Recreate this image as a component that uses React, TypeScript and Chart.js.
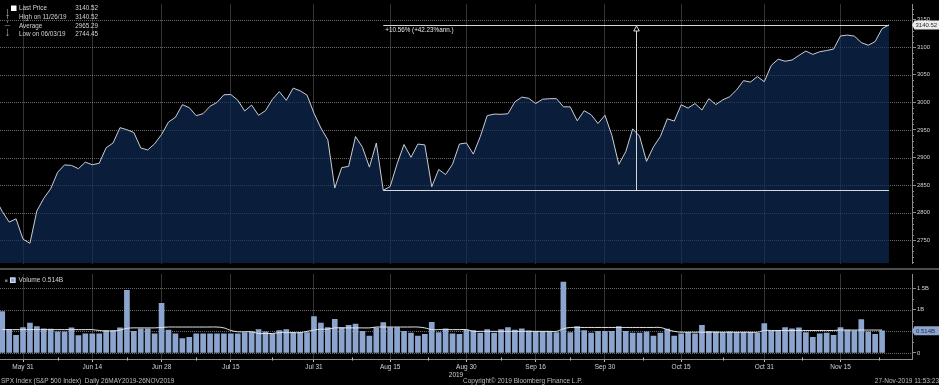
import React, { useEffect, useRef } from 'react';
import { Chart, registerables } from 'chart.js';

Chart.register(...registerables);

const FONT = '"Liberation Sans", Arial, sans-serif';

// SPX daily closes, trading-day index 0 = 24 May 2019 ... 129 = 26 Nov 2019
const priceValues = [
  2826.06, 2802.39, 2783.02, 2788.86, 2752.06, 2744.45, 2803.27, 2826.15, 2843.49, 2873.34,
  2886.73, 2885.72, 2879.84, 2891.64, 2886.98, 2889.67, 2917.75, 2926.46, 2954.18, 2950.46,
  2945.35, 2917.38, 2913.78, 2924.92, 2941.76, 2964.33, 2973.01, 2995.82, 2990.41, 2975.95,
  2979.63, 2993.07, 2999.91, 3013.77, 3014.3, 3004.04, 2984.42, 2995.11, 2976.61, 2985.03,
  3005.47, 3019.56, 3003.67, 3025.86, 3020.97, 3013.18, 2980.38, 2953.56, 2932.05, 2844.74,
  2881.77, 2883.98, 2938.09, 2918.65, 2882.7, 2926.32, 2840.6, 2847.6, 2888.68, 2923.65,
  2900.51, 2924.43, 2922.95, 2847.11, 2878.38, 2869.16, 2887.94, 2924.58, 2926.46, 2906.27,
  2937.78, 2976.0, 2978.71, 2978.43, 2979.39, 3000.93, 3009.57, 3007.39, 2997.96, 3005.7,
  3006.73, 3006.79, 2992.07, 2991.78, 2966.6, 2984.87, 2977.62, 2961.79, 2976.74, 2940.25,
  2887.61, 2910.63, 2952.01, 2938.79, 2893.06, 2919.4, 2938.13, 2970.27, 2966.15, 2995.68,
  2989.69, 2997.95, 2986.2, 3006.72, 2995.99, 3004.52, 3010.29, 3022.55, 3039.42, 3036.89,
  3046.77, 3037.56, 3066.91, 3078.27, 3074.62, 3076.78, 3085.18, 3093.08, 3087.01, 3091.84,
  3094.04, 3096.63, 3120.46, 3122.03, 3120.18, 3108.46, 3103.54, 3110.29, 3133.64, 3140.52,
];

// Volume (billions), bars starting at trading-day index 1
const volumeStartIndex = 1;
const volumeValues = [
  0.96, 0.54, 0.41, 0.59, 0.69, 0.61, 0.56, 0.55, 0.49, 0.49,
  0.58, 0.40, 0.44, 0.44, 0.44, 0.52, 0.52, 0.58, 1.45, 0.50,
  0.56, 0.56, 0.44, 1.15, 0.53, 0.44, 0.33, 0.36, 0.44, 0.44,
  0.44, 0.44, 0.44, 0.44, 0.44, 0.47, 0.49, 0.54, 0.49, 0.44,
  0.52, 0.54, 0.47, 0.47, 0.47, 0.84, 0.69, 0.59, 0.78, 0.59,
  0.64, 0.67, 0.50, 0.39, 0.58, 0.70, 0.59, 0.59, 0.50, 0.46,
  0.39, 0.43, 0.71, 0.47, 0.56, 0.44, 0.43, 0.53,
  0.52, 0.46, 0.54, 0.46, 0.54, 0.59, 0.53, 0.56, 0.51, 0.50,
  0.50, 0.50, 0.47, 1.64, 0.47, 0.61, 0.52, 0.46, 0.50, 0.50,
  0.50, 0.61, 0.50, 0.46, 0.46, 0.49, 0.39, 0.46, 0.55, 0.39,
  0.44, 0.47, 0.44, 0.64, 0.50, 0.49, 0.47, 0.49, 0.48, 0.48,
  0.48, 0.46, 0.68, 0.50, 0.52, 0.59, 0.56, 0.58, 0.47, 0.36,
  0.44, 0.46, 0.41, 0.59, 0.53, 0.52, 0.77, 0.49, 0.43, 0.514,
];

// Volume moving average (billions), same indices as volumeValues
const volumeAverage = [
  0.54, 0.54, 0.54, 0.54, 0.54, 0.54, 0.54, 0.54, 0.54, 0.54, 0.54, 0.54, 0.54, 0.54,
  0.52, 0.51, 0.51, 0.53, 0.57, 0.58, 0.58, 0.58, 0.58, 0.59,
  0.60, 0.60, 0.60, 0.60, 0.60, 0.60, 0.60, 0.60, 0.58, 0.52,
  0.49, 0.49, 0.49, 0.45, 0.45, 0.45, 0.47, 0.47, 0.47, 0.47, 0.50, 0.53, 0.55, 0.55,
  0.58, 0.58, 0.58, 0.58, 0.58, 0.58, 0.60, 0.60, 0.60, 0.60, 0.60, 0.60, 0.60, 0.58,
  0.54, 0.54, 0.54, 0.54, 0.54, 0.54,
  0.50, 0.50, 0.50, 0.50, 0.50, 0.50, 0.50, 0.50, 0.50, 0.50, 0.50, 0.50, 0.50,
  0.56, 0.59, 0.59, 0.59, 0.59, 0.59, 0.59, 0.59, 0.59, 0.59, 0.59, 0.59, 0.59, 0.59, 0.59,
  0.54, 0.50, 0.48, 0.48, 0.48, 0.48, 0.48, 0.48, 0.48, 0.48, 0.48, 0.48, 0.48, 0.48,
  0.52, 0.52, 0.52, 0.52, 0.52, 0.52, 0.52, 0.52, 0.52, 0.52, 0.52,
  0.53, 0.53, 0.53, 0.53, 0.53, 0.53, 0.53,
];

const xTickIndex = [4, 14, 24, 34, 46, 57, 68, 78, 88, 99, 111, 122];
const xTickLabels = ['May 31', 'Jun 14', 'Jun 28', 'Jul 15', 'Jul 31', 'Aug 15', 'Aug 30', 'Sep 16', 'Sep 30', 'Oct 15', 'Oct 31', 'Nov 15'];
const priceTicks = [2750, 2800, 2850, 2900, 2950, 3000, 3050, 3100, 3150];
const volumeTicks = [0, 0.5, 1, 1.5];
const volumeTickLabels = ['0', '', '1B', '1.5B'];

const legendLabels = ['Last Price', 'High on 11/26/19', 'Average', 'Low on 06/03/19'];
const legendValues = ['3140.52', '3140.52', '2965.29', '2744.45'];
const legendGlyphs = ['', '\u2191', '\u2014', '\u2193'];

const moveStartIndex = 56;
const moveEndIndex = 129;
const moveLabel = '+10.56% (+42.23%ann.)';
const lastPriceLabel = '3140.52';
const lastVolumeLabel = '0.514B';
const volumeLegendLabel = 'Volume 0.514B';
const footerLeft = 'SPX Index (S&P 500 Index)  Daily 26MAY2019-26NOV2019';
const footerMid = 'Copyright\u00a9 2019 Bloomberg Finance L.P.';
const footerRight = '27-Nov-2019 11:53:23';
const yearLabel = '2019';

const X_MIN = 0.68;
const X_MAX = 132.32;
const GRID = 'rgba(150,150,150,0.7)';
const GRID_DASH = [1, 1];
const AXIS = '#8c8c8c';
const TEXT = '#d2d2d2';

// horizontal dotted grid lines drawn beneath the datasets
const hGrid = {
  id: 'hGrid',
  beforeDatasetsDraw(chart: any, _args: any, opts: any) {
    const { ctx, chartArea, scales } = chart;
    const y = scales.y;
    ctx.save();
    ctx.strokeStyle = GRID;
    ctx.lineWidth = 1;
    ctx.setLineDash(GRID_DASH);
    (opts.values || []).forEach((v: number) => {
      const py = Math.round(y.getPixelForValue(v)) + 0.5;
      if (py < chartArea.top || py > chartArea.bottom) return;
      ctx.beginPath();
      ctx.moveTo(chartArea.left, py);
      ctx.lineTo(chartArea.right, py);
      ctx.stroke();
    });
    ctx.restore();
  },
};

const priceOverlay = {
  id: 'priceOverlay',
  afterDraw(chart: any) {
    const { ctx, chartArea, scales } = chart;
    const x = scales.x;
    const y = scales.y;
    ctx.save();
    // minor ticks
    ctx.strokeStyle = AXIS;
    ctx.lineWidth = 1;
    for (let v = 2710; v <= 3170; v += 10) {
      if (v % 50 === 0) continue;
      const py = Math.round(y.getPixelForValue(v)) + 0.5;
      ctx.beginPath();
      ctx.moveTo(chartArea.right, py);
      ctx.lineTo(chartArea.right + 2, py);
      ctx.stroke();
    }
    // move annotation
    const x0 = x.getPixelForValue(moveStartIndex);
    const x1 = x.getPixelForValue(moveEndIndex);
    const yLow = Math.round(y.getPixelForValue(priceValues[moveStartIndex])) + 0.5;
    const yHigh = Math.round(y.getPixelForValue(priceValues[moveEndIndex])) + 0.5;
    ctx.strokeStyle = 'rgba(225,225,225,0.95)';
    ctx.beginPath();
    ctx.moveTo(x0, yLow); ctx.lineTo(x1, yLow);
    ctx.moveTo(x0, yHigh); ctx.lineTo(x1, yHigh);
    ctx.stroke();
    const xm = Math.round(x.getPixelForValue((moveStartIndex + moveEndIndex) / 2)) + 0.5;
    ctx.beginPath();
    ctx.moveTo(xm, yLow); ctx.lineTo(xm, yHigh + 5);
    ctx.stroke();
    ctx.beginPath();
    ctx.moveTo(xm, yHigh + 0.5);
    ctx.lineTo(xm - 2.8, yHigh + 5.5);
    ctx.lineTo(xm + 2.8, yHigh + 5.5);
    ctx.closePath();
    ctx.fillStyle = '#000';
    ctx.fill();
    ctx.stroke();
    ctx.fillStyle = '#e6e6e6';
    ctx.font = `6.3px ${FONT}`;
    ctx.textBaseline = 'middle';
    ctx.textAlign = 'left';
    ctx.fillText(moveLabel, x0 + 2, yHigh + 4.5);

    // last price box
    const bx = chartArea.right + 1.5;
    const by = y.getPixelForValue(priceValues[priceValues.length - 1]);
    ctx.fillStyle = '#ececec';
    ctx.beginPath();
    ctx.moveTo(bx - 1.5, by);
    ctx.lineTo(bx + 1, by - 4.5);
    ctx.lineTo(939, by - 4.5);
    ctx.lineTo(939, by + 4.5);
    ctx.lineTo(bx + 1, by + 4.5);
    ctx.closePath();
    ctx.fill();
    ctx.fillStyle = '#2a2a2a';
    ctx.font = `6px ${FONT}`;
    ctx.fillText(lastPriceLabel, bx + 2, by + 0.5);

    // legend
    ctx.strokeStyle = '#6a6a6a';
    ctx.beginPath();
    ctx.moveTo(7.5, 9);
    ctx.lineTo(7.5, 37);
    ctx.stroke();
    const legendFont = `6.3px ${FONT}`;
    ctx.font = legendFont;
    legendLabels.forEach((label, r) => {
      const ry = 8.5 + r * 8.7;
      ctx.fillStyle = TEXT;
      ctx.textAlign = 'left';
      ctx.fillText(label, 19, ry);
      ctx.textAlign = 'right';
      ctx.fillText(legendValues[r], 98, ry);
      if (r === 0) {
        ctx.fillStyle = '#ffffff';
        ctx.fillRect(11, 5.5, 5.5, 5.5);
      } else {
        ctx.fillStyle = '#000';
        ctx.fillRect(5, ry - 3, 5, 6);
        ctx.fillStyle = '#bdbdbd';
        ctx.textAlign = 'center';
        ctx.font = `6px "DejaVu Sans", sans-serif`;
        ctx.fillText(legendGlyphs[r], 7.5, ry);
        ctx.font = legendFont;
      }
    });
    ctx.restore();
  },
};

const volumeOverlay = {
  id: 'volumeOverlay',
  afterDraw(chart: any) {
    const { ctx, chartArea, scales } = chart;
    const x = scales.x;
    const y = scales.y;
    ctx.save();
    ctx.strokeStyle = AXIS;
    ctx.lineWidth = 1;
    // y minor ticks
    for (let v = 0.25; v < 1.75; v += 0.5) {
      const py = Math.round(y.getPixelForValue(v)) + 0.5;
      ctx.beginPath();
      ctx.moveTo(chartArea.right, py);
      ctx.lineTo(chartArea.right + 2, py);
      ctx.stroke();
    }
    // x minor ticks (midpoints between labels)
    ctx.strokeStyle = '#bdbdbd';
    for (let k = 0; k < xTickIndex.length; k++) {
      const a = xTickIndex[k];
      const b = k + 1 < xTickIndex.length ? xTickIndex[k + 1] : a + (a - xTickIndex[k - 1]);
      const px = Math.round(x.getPixelForValue((a + b) / 2)) + 0.5;
      if (px > chartArea.right) continue;
      ctx.beginPath();
      ctx.moveTo(px, chartArea.bottom - 1.5);
      ctx.lineTo(px, chartArea.bottom + 1.5);
      ctx.stroke();
    }
    ctx.textBaseline = 'middle';
    // legend
    ctx.fillStyle = '#777';
    ctx.fillRect(5, 9.5, 2.5, 2.5);
    ctx.fillStyle = 'rgb(140,165,206)';
    ctx.fillRect(10, 7.5, 5.5, 5.5);
    ctx.strokeStyle = '#dfe6f2';
    ctx.strokeRect(10.5, 8, 4.5, 4.5);
    ctx.fillStyle = TEXT;
    ctx.font = `6.6px ${FONT}`;
    ctx.textAlign = 'left';
    ctx.fillText(volumeLegendLabel, 18.5, 10.5);
    // last volume box
    const by = y.getPixelForValue(volumeValues[volumeValues.length - 1]);
    const bx = chartArea.right + 1.5;
    ctx.fillStyle = 'rgb(140,165,206)';
    ctx.beginPath();
    ctx.moveTo(bx - 1.5, by);
    ctx.lineTo(bx + 1, by - 4.5);
    ctx.lineTo(939, by - 4.5);
    ctx.lineTo(939, by + 4.5);
    ctx.lineTo(bx + 1, by + 4.5);
    ctx.closePath();
    ctx.fill();
    ctx.fillStyle = '#1c2c48';
    ctx.font = `6px ${FONT}`;
    ctx.fillText(lastVolumeLabel, bx + 2.5, by + 0.5);
    // year + footer
    ctx.fillStyle = TEXT;
    ctx.font = `6.5px ${FONT}`;
    ctx.textAlign = 'center';
    ctx.fillText(yearLabel, 456, 105.5);
    ctx.fillStyle = '#bcbcbc';
    ctx.textAlign = 'left';
    ctx.fillText(footerLeft, 1, 111.5);
    ctx.fillText(footerMid, 463, 111.5);
    ctx.textAlign = 'right';
    ctx.fillText(footerRight, 939, 111.5);
    ctx.restore();
  },
};

export default function App() {
  const priceRef = useRef<HTMLCanvasElement | null>(null);
  const volRef = useRef<HTMLCanvasElement | null>(null);

  useEffect(() => {
    Chart.defaults.font.family = FONT;
    const xTicksHook = (s: any) => {
      s.ticks = xTickIndex.map((v) => ({ value: v }));
    };
    const priceChart = new Chart(priceRef.current as HTMLCanvasElement, {
      type: 'line',
      data: {
        datasets: [
          {
            data: priceValues.map((v, i) => ({ x: i, y: v })),
            borderColor: '#c9ced6',
            borderWidth: 1,
            pointRadius: 0,
            tension: 0,
            fill: 'start',
            backgroundColor: 'rgba(14,43,86,0.7)',
          },
        ],
      },
      options: {
        animation: false,
        responsive: false,
        events: [],
        layout: { padding: 0 },
        plugins: { legend: { display: false }, tooltip: { enabled: false }, hGrid: { values: priceTicks } },
        scales: {
          x: {
            type: 'linear',
            min: X_MIN,
            max: X_MAX,
            afterBuildTicks: xTicksHook,
            afterFit: (s: any) => { s.height = 0; },
            ticks: { display: false },
            grid: { color: GRID, drawTicks: false, lineWidth: 1 },
            border: { display: false, dash: GRID_DASH },
          },
          y: {
            type: 'linear',
            position: 'right',
            min: 2707.9,
            max: 3177.5,
            afterBuildTicks: (s: any) => { s.ticks = priceTicks.map((v) => ({ value: v })); },
            afterFit: (s: any) => { s.width = 27; },
            ticks: {
              color: TEXT,
              font: { size: 5.8, family: FONT },
              padding: 1,
              callback: (v: any) => String(v),
            },
            grid: { drawOnChartArea: false, color: GRID, tickColor: AXIS, tickLength: 4, lineWidth: 1 },
            border: { display: true, color: AXIS },
          },
        },
      },
      plugins: [hGrid, priceOverlay],
    } as any);

    const volChart = new Chart(volRef.current as HTMLCanvasElement, {
      type: 'bar',
      data: {
        datasets: [
          {
            type: 'line',
            data: volumeAverage.map((v, i) => ({ x: i + volumeStartIndex, y: v })),
            borderColor: '#e4e4e4',
            borderWidth: 1,
            pointRadius: 0,
            tension: 0.4,
            order: 0,
          },
          {
            type: 'bar',
            data: volumeValues.map((v, i) => ({ x: i + volumeStartIndex, y: v })),
            backgroundColor: 'rgb(140,165,206)',
            barThickness: 5,
            order: 1,
          },
        ],
      },
      options: {
        animation: false,
        responsive: false,
        events: [],
        layout: { padding: { top: 1, left: 0, right: 0, bottom: 0 } },
        plugins: { legend: { display: false }, tooltip: { enabled: false }, hGrid: { values: volumeTicks } },
        scales: {
          x: {
            type: 'linear',
            min: X_MIN,
            max: X_MAX,
            offset: false,
            afterBuildTicks: xTicksHook,
            afterFit: (s: any) => { s.height = 26; },
            ticks: {
              autoSkip: false,
              maxRotation: 0,
              color: TEXT,
              padding: 1,
              font: { size: 6.5, family: FONT },
              callback: (v: any) => {
                const k = xTickIndex.indexOf(v);
                return k >= 0 ? xTickLabels[k] : '';
              },
            },
            grid: { color: GRID, offset: false, tickColor: '#bdbdbd', tickLength: 3, lineWidth: 1 },
            border: { display: true, color: AXIS, dash: GRID_DASH },
          },
          y: {
            type: 'linear',
            position: 'right',
            min: -0.14,
            max: 1.816,
            afterBuildTicks: (s: any) => { s.ticks = volumeTicks.map((v) => ({ value: v })); },
            afterFit: (s: any) => { s.width = 27; },
            ticks: {
              color: TEXT,
              padding: 1,
              font: { size: 5.8, family: FONT },
              callback: (v: any) => {
                const k = volumeTicks.indexOf(v);
                return k >= 0 ? volumeTickLabels[k] : '';
              },
            },
            grid: { drawOnChartArea: false, color: GRID, tickColor: AXIS, tickLength: 4, lineWidth: 1 },
            border: { display: true, color: AXIS },
          },
        },
      },
      plugins: [hGrid, volumeOverlay],
    } as any);

    return () => {
      priceChart.destroy();
      volChart.destroy();
    };
  }, []);

  return (
    <div style={{ position: 'absolute', left: 0, top: 0, width: 939, height: 385, background: '#000', overflow: 'hidden' }}>
      <canvas ref={priceRef} width={939} height={268} style={{ position: 'absolute', left: 0, top: 0, display: 'block' }} />
      <div style={{ position: 'absolute', left: 0, top: 268, width: 939, height: 2, background: '#4e4e4e' }} />
      <canvas ref={volRef} width={939} height={115} style={{ position: 'absolute', left: 0, top: 270, display: 'block' }} />
    </div>
  );
}
